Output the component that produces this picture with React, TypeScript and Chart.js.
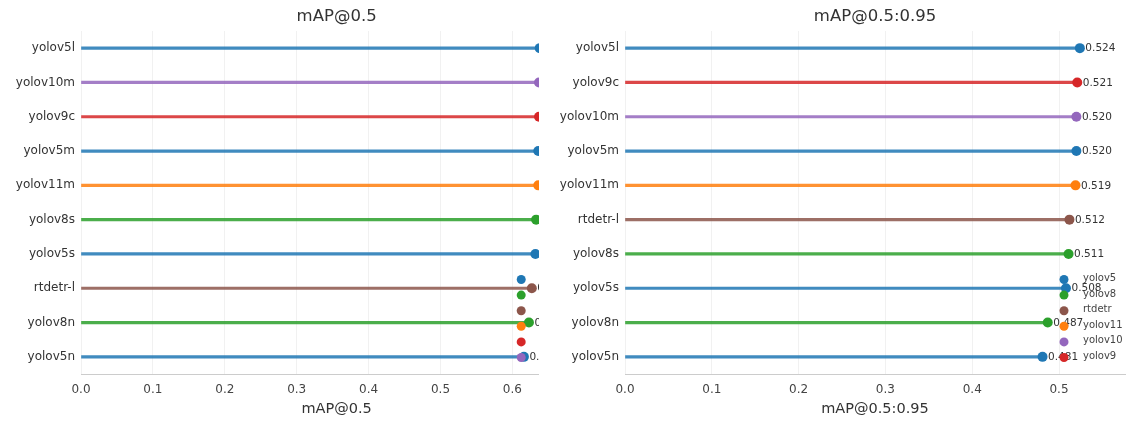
import React, { useEffect, useRef } from "react";
import { Chart, registerables } from "chart.js";

Chart.register(...registerables);
Chart.defaults.font.family = "'DejaVu Sans', 'Liberation Sans', sans-serif";

// mAP@0.5, sorted best first
const models50 = ["yolov5l", "yolov10m", "yolov9c", "yolov5m", "yolov11m", "yolov8s", "yolov5s", "rtdetr-l", "yolov8n", "yolov5n"];
const map50 = [0.638, 0.637, 0.637, 0.636, 0.636, 0.633, 0.632, 0.627, 0.623, 0.616];

// mAP@0.5:0.95, sorted best first
const models5095 = ["yolov5l", "yolov9c", "yolov10m", "yolov5m", "yolov11m", "rtdetr-l", "yolov8s", "yolov5s", "yolov8n", "yolov5n"];
const map5095 = [0.524, 0.521, 0.52, 0.52, 0.519, 0.512, 0.511, 0.508, 0.487, 0.481];

// model families and their colours
const families = ["yolov5", "yolov8", "rtdetr", "yolov11", "yolov10", "yolov9"];
const familyColors = ["#1f77b4", "#2ca02c", "#8c564b", "#ff7f0e", "#9467bd", "#d62728"];

const TEXT = "#333333";

function familyOf(model: string): string {
  return model.startsWith("rtdetr") ? "rtdetr" : model.slice(0, -1);
}
function colorOf(model: string): string {
  return familyColors[families.indexOf(familyOf(model))];
}
function withAlpha(hex: string, a: number): string {
  const n = parseInt(hex.slice(1), 16);
  return `rgba(${(n >> 16) & 255},${(n >> 8) & 255},${n & 255},${a})`;
}
// legend entries in the order each family first shows up, from the bottom row upwards
function legendOrder(labels: string[]): string[] {
  const out: string[] = [];
  [...labels].reverse().forEach((m) => {
    const f = familyOf(m);
    if (!out.includes(f)) out.push(f);
  });
  return out;
}

// value text next to each lollipop head
const valueLabels = {
  id: "valueLabels",
  afterDatasetsDraw(chart: any) {
    const meta = chart.getDatasetMeta(1);
    const values = chart.data.datasets[1].data as number[];
    const ctx = chart.ctx;
    ctx.save();
    ctx.font = "10.5px 'DejaVu Sans', sans-serif";
    ctx.fillStyle = TEXT;
    ctx.textAlign = "left";
    ctx.textBaseline = "middle";
    meta.data.forEach((pt: any, i: number) => {
      ctx.fillText(values[i].toFixed(3), pt.x + 5.5, pt.y + 0.5);
    });
    ctx.restore();
  },
};

// panel title centred over the plot area, plus the family legend at lower right
const panelDecor = {
  id: "panelDecor",
  afterDraw(chart: any, _args: any, opts: any) {
    const { ctx, chartArea } = chart;
    ctx.save();
    ctx.fillStyle = TEXT;
    ctx.font = "16.5px 'DejaVu Sans', sans-serif";
    ctx.textAlign = "center";
    ctx.textBaseline = "middle";
    ctx.fillText(opts.title, (chartArea.left + chartArea.right) / 2, 17);

    const order: string[] = legendOrder(chart.data.labels);
    const mx = chartArea.right - opts.legendInset;
    const step = 15.6;
    const lastY = chartArea.bottom - 16.5;
    ctx.font = "10px 'DejaVu Sans', sans-serif";
    ctx.textAlign = "left";
    order.forEach((f, i) => {
      const y = lastY - (order.length - 1 - i) * step;
      ctx.beginPath();
      ctx.arc(mx, y, 4.5, 0, Math.PI * 2);
      ctx.fillStyle = familyColors[families.indexOf(f)];
      ctx.fill();
      ctx.fillStyle = "#444";
      ctx.fillText(f, mx + 19, y - 1);
    });
    ctx.restore();
  },
};

function makeConfig(labels: string[], values: number[], title: string, xMax: number, yWidth: number, padRight: number, legendInset: number): any {
  const colors = labels.map(colorOf);
  return {
    type: "bar",
    data: {
      labels,
      datasets: [
        {
          type: "bar",
          data: values,
          backgroundColor: colors.map((c) => withAlpha(c, 0.85)),
          borderWidth: 0,
          barThickness: 2.5,
          indexAxis: "y",
        },
        {
          type: "line",
          data: values,
          indexAxis: "y",
          showLine: false,
          pointRadius: 5,
          pointHoverRadius: 5,
          pointBorderWidth: 0,
          pointBackgroundColor: colors,
          borderColor: colors,
          clip: false,
        },
      ],
    },
    options: {
      indexAxis: "y",
      animation: false,
      responsive: false,
      events: [],
      layout: { padding: { top: 31, bottom: 0, left: 0, right: padRight } },
      plugins: {
        legend: { display: false },
        tooltip: { enabled: false },
        title: { display: false },
        panelDecor: { title, legendInset },
      },
      scales: {
        x: {
          type: "linear",
          min: 0,
          max: xMax,
          ticks: {
            stepSize: 0.1,
            includeBounds: false,
            callback: (v: number) => v.toFixed(1),
            font: { size: 12 },
            color: "#444",
            padding: 9,
            maxRotation: 0,
          },
          grid: { color: "rgba(0,0,0,0.055)", drawTicks: false },
          border: { display: true, color: "#cccccc", width: 1 },
          title: {
            display: true,
            text: title,
            font: { size: 14.5 },
            color: TEXT,
            padding: { top: 0, bottom: 3.3 },
          },
          afterFit: (s: any) => {
            s.height = 47;
          },
        },
        y: {
          type: "category",
          grid: { display: false, drawTicks: false },
          border: { display: false },
          ticks: { font: { size: 12 }, color: TEXT, padding: 6 },
          afterFit: (s: any) => {
            s.width = yWidth;
          },
        },
      },
    },
    plugins: [valueLabels, panelDecor],
  };
}

type PanelProps = {
  labels: string[];
  values: number[];
  title: string;
  xMax: number;
  yWidth: number;
  padRight: number;
  legendInset: number;
  width: number;
};

function Panel(props: PanelProps) {
  const ref = useRef<HTMLCanvasElement | null>(null);
  useEffect(() => {
    if (!ref.current) return;
    const chart = new Chart(
      ref.current,
      makeConfig(props.labels, props.values, props.title, props.xMax, props.yWidth, props.padRight, props.legendInset)
    );
    return () => chart.destroy();
  }, []);
  return <canvas ref={ref} width={props.width} height={421} style={{ display: "block", width: props.width, height: 421 }} />;
}

export default function App() {
  return (
    <div style={{ position: "absolute", left: 0, top: 0, width: 1130, height: 421, background: "#fff", overflow: "hidden" }}>
      <div style={{ position: "absolute", left: 0, top: 0, width: 539, height: 421, overflow: "hidden" }}>
        <Panel labels={models50} values={map50} title="mAP@0.5" xMax={0.711} yWidth={81} padRight={10} legendInset={71} width={603} />
      </div>
      <div style={{ position: "absolute", left: 540, top: 0, width: 590, height: 421 }}>
        <Panel labels={models5095} values={map5095} title="mAP@0.5:0.95" xMax={0.576} yWidth={85} padRight={1} legendInset={61} width={590} />
      </div>
    </div>
  );
}
